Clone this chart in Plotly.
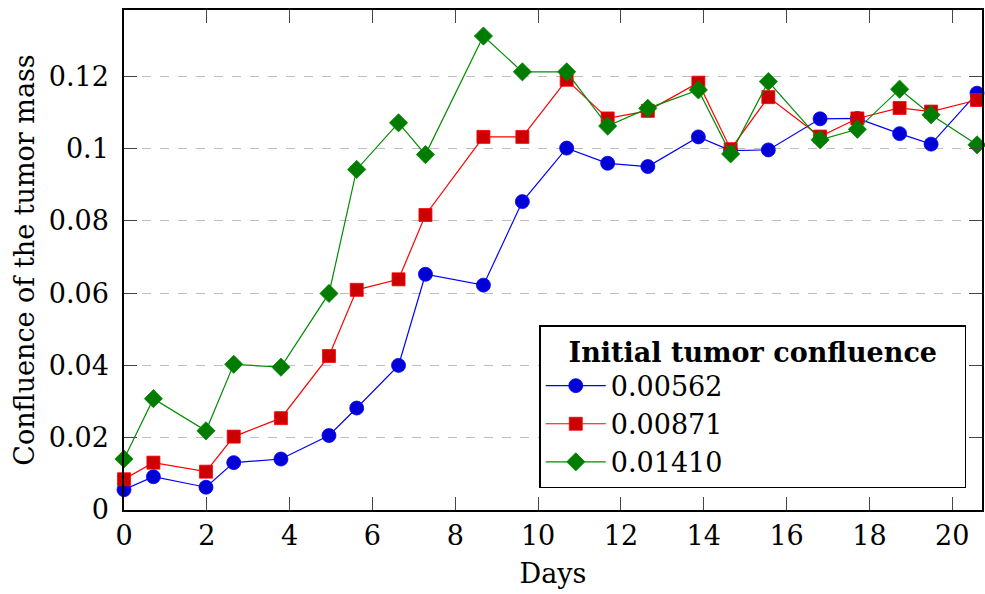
import plotly.graph_objects as go

# Measurement days (shared by all three runs)
days = [0, 0.71, 1.98, 2.65, 3.79, 4.95, 5.62, 6.63, 7.28, 8.68, 9.62,
        10.69, 11.68, 12.65, 13.87, 14.65, 15.56, 16.81, 17.71, 18.73, 19.49, 20.6]

# Confluence of the tumor mass for each initial confluence
conf_00562 = [0.0056, 0.0092, 0.0063, 0.0131, 0.0141, 0.0206, 0.0282, 0.0400,
              0.0652, 0.0622, 0.0853, 0.1001, 0.0959, 0.0950, 0.1032, 0.0994,
              0.0996, 0.1082, 0.1083, 0.1041, 0.1012, 0.1153]
conf_00871 = [0.0085, 0.0131, 0.0106, 0.0203, 0.0254, 0.0426, 0.0609, 0.0638,
              0.0816, 0.1032, 0.1032, 0.1190, 0.1083, 0.1104, 0.1182, 0.0998,
              0.1142, 0.1033, 0.1083, 0.1112, 0.1102, 0.1134]
conf_01410 = [0.0141, 0.0308, 0.0219, 0.0403, 0.0395, 0.0599, 0.0942, 0.1071,
              0.0983, 0.1311, 0.1212, 0.1212, 0.1062, 0.1111, 0.1162, 0.0985,
              0.1185, 0.1024, 0.1053, 0.1164, 0.1093, 0.1010]

series_names = ["0.00562", "0.00871", "0.01410"]
x_ticks = [0, 2, 4, 6, 8, 10, 12, 14, 16, 18, 20]
y_ticks = [0, 0.02, 0.04, 0.06, 0.08, 0.1, 0.12]
y_tick_labels = ["0", "0.02", "0.04", "0.06", "0.08", "0.1", "0.12"]

FONT = "DejaVu Serif"
FS = 27

styles = [
    dict(line="rgb(0,0,255)", fill="rgb(0,0,215)", symbol="circle", size=14),
    dict(line="rgb(255,0,0)", fill="rgb(204,0,0)", symbol="square", size=13),
    dict(line="rgb(0,140,0)", fill="rgb(0,125,0)", symbol="diamond", size=14),
]

fig = go.Figure()
for name, vals, st in zip(series_names, [conf_00562, conf_00871, conf_01410], styles):
    fig.add_trace(go.Scatter(
        x=days, y=vals, name=name, mode="lines+markers",
        line=dict(color=st["line"], width=1.2),
        marker=dict(symbol=st["symbol"], size=st["size"], color=st["fill"],
                    line=dict(color=st["line"], width=0.8)),
        cliponaxis=False,
    ))

axis_common = dict(
    showline=True, linecolor="black", linewidth=1.5, mirror="ticks",
    ticks="inside", ticklen=13, tickwidth=1.2, tickcolor="rgb(70,70,70)",
    tickfont=dict(family=FONT, size=FS, color="black"),
    zeroline=False,
)

# padded so the legend box has some breathing room around the title
legend_title = "&nbsp;&nbsp;&nbsp;<b>Initial tumor confluence</b>&nbsp;&nbsp;&nbsp;"

fig.update_layout(
    width=985, height=594,
    margin=dict(l=124, r=1, t=10, b=84),
    paper_bgcolor="white", plot_bgcolor="white",
    font=dict(family=FONT, size=FS, color="black"),
    showlegend=True,
    legend=dict(
        x=0.484, y=0.37, xanchor="left", yanchor="top",
        bgcolor="white", bordercolor="black", borderwidth=1.5,
        font=dict(family=FONT, size=FS, color="black"),
        title=dict(text=legend_title, side="top center",
                   font=dict(family=FONT, size=FS, color="black")),
        tracegroupgap=0,
        itemwidth=60,
    ),
)

fig.update_xaxes(
    range=[0, 20.72], tickvals=x_ticks, showgrid=False,
    ticklabelstandoff=1,
    title=dict(text="Days", font=dict(family=FONT, size=FS), standoff=14),
    **axis_common,
)
fig.update_yaxes(
    range=[0, 0.1383], tickvals=y_ticks, ticktext=y_tick_labels,
    showgrid=True, gridcolor="rgb(190,190,190)", gridwidth=1.3, griddash="dash",
    ticklabelstandoff=8,
    title=dict(text="Confluence of the tumor mass", font=dict(family=FONT, size=FS), standoff=6),
    **axis_common,
)

fig.write_html("out.html")
